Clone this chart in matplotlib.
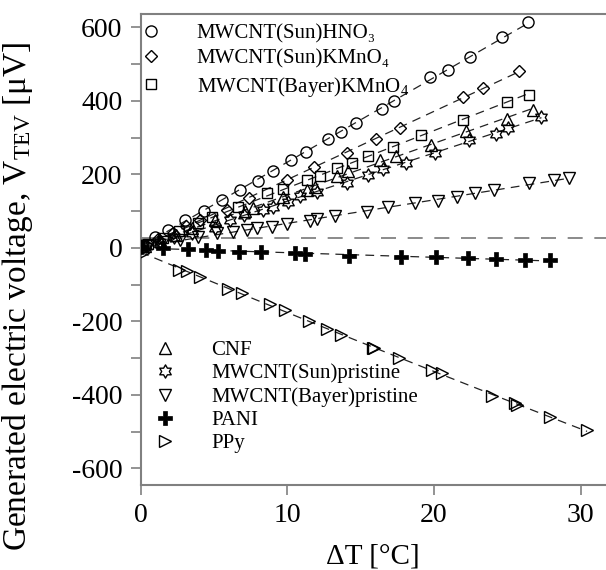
import numpy as np
import matplotlib
matplotlib.use("Agg")
import matplotlib.pyplot as plt
from matplotlib.path import Path

plt.rcParams['font.family'] = ['Liberation Serif', 'DejaVu Serif']
plt.rcParams['mathtext.fontset'] = 'custom'
plt.rcParams['mathtext.rm'] = 'Liberation Serif'
plt.rcParams['mathtext.it'] = 'Liberation Serif:italic'
plt.rcParams['axes.unicode_minus'] = False

# ---------------- data ----------------
hno3_x = [0.19, 0.99, 1.89, 3.03, 4.35, 5.53, 6.78, 7.98, 9.05, 10.25, 11.27, 12.75, 13.64, 14.66,
          16.43, 17.27, 19.72, 20.97, 22.49, 24.67, 26.42]
hno3_y = [8, 29, 49, 76, 101, 131, 158, 183, 210, 239, 261, 296, 316, 339,
          377, 401, 464, 483, 520, 573, 615]

sunk_x = [0.4, 1.2, 2.2, 3.1, 4.05, 5.87, 7.4, 9.96, 11.85, 14.05, 16.04, 17.68, 21.99, 23.35, 25.8]
sunk_y = [9, 25, 42, 60, 76, 103, 137, 184, 220, 258, 297, 326, 410, 436, 482]

bayk_x = [0.5, 1.5, 2.6, 3.94, 4.85, 6.66, 8.6, 9.73, 11.32, 12.23, 13.37, 14.45, 15.5,
          17.18, 19.09, 21.99, 24.95, 26.49]
bayk_y = [10, 28, 46, 67, 85, 112, 150, 160, 184, 196, 218, 232, 250,
          274, 307, 348, 398, 417]

cnf_x = [0.3, 1.3, 2.4, 3.5, 5.07, 7.12, 7.68, 9.73, 11.32, 11.89, 13.37, 14.12, 16.3,
         17.4, 19.77, 22.17, 24.95, 26.76]
cnf_y = [4, 20, 36, 55, 76, 100, 108, 139, 157, 165, 195, 209, 239,
         251, 280, 319, 350, 376]

sunp_x = [0.4, 1.3, 2.3, 3.5, 5.07, 6.1, 7.05, 8.37, 9.05, 10.07, 10.9, 12.0, 14.05, 15.52,
          16.54, 18.09, 20.06, 22.4, 24.22, 25.05, 27.33]
sunp_y = [5, 17, 30, 42, 55, 76, 90, 103, 112, 126, 142, 153, 178, 199,
          214, 232, 259, 294, 310, 327, 357]

bayp_x = [0.5, 1.5, 2.69, 3.94, 5.23, 6.32, 7.23, 7.92, 8.94, 9.96, 11.55, 12.04, 13.25, 15.45,
          16.88, 18.7, 20.29, 21.54, 22.79, 24.08, 26.49, 28.17, 29.19]
bayp_y = [5, 15, 22, 29, 40, 44, 49, 54, 58, 65, 74, 79, 86, 99,
          111, 123, 129, 138, 149, 158, 176, 185, 191]

pani_x = [0.0, 1.56, 3.26, 4.46, 5.3, 6.73, 8.24, 10.52, 11.2, 14.22, 17.78, 20.16, 22.31,
          24.2, 26.18, 27.88]
pani_y = [3, -1, -4, -5, -7, -10, -12, -14, -16, -21, -24, -25, -28, -30, -33, -33]

ppy_x = [0.19, 2.64, 3.19, 4.05, 5.98, 6.89, 8.8, 9.84, 11.5, 12.68, 13.64, 15.82, 15.9,
         17.63, 19.84, 20.52, 23.99, 25.51, 25.67, 27.94, 30.44]
ppy_y = [-14, -60, -64, -78, -112, -122, -153, -170, -198, -220, -236, -271, -272,
         -299, -332, -341, -403, -423, -428, -461, -495]

ref_level = 27

labels_top = ['MWCNT(Sun)HNO\u2083', 'MWCNT(Sun)KMnO\u2084', r'MWCNT(Bayer)KMnO$_4$']
labels_bot = ['CNF', 'MWCNT(Sun)pristine', 'MWCNT(Bayer)pristine', 'PANI', 'PPy']

# ---------------- style ----------------
# six-pointed star marker
ang_out = np.deg2rad(90 + 60 * np.arange(6))
ang_in = np.deg2rad(120 + 60 * np.arange(6))
verts = []
for a, b in zip(ang_out, ang_in):
    verts.append((np.cos(a), np.sin(a)))
    verts.append((np.cos(b) / np.sqrt(3), np.sin(b) / np.sqrt(3)))
verts.append(verts[0])
hexagram = Path(verts, closed=True)

fig = plt.figure(figsize=(6.06, 5.70), dpi=100)
ax = fig.add_axes([140.5 / 606, 85 / 570, 465.5 / 606, 471.5 / 570])

series = [
    (hno3_x, hno3_y, 'o', 8.0, 1),
    (sunk_x, sunk_y, 'D', 6.5, 1),
    (bayk_x, bayk_y, 's', 7.5, 1),
    (cnf_x, cnf_y, '^', 9.0, 1),
    (sunp_x, sunp_y, hexagram, 9.5, 1),
    (bayp_x, bayp_y, 'v', 9.0, 1),
    (pani_x, pani_y, 'P', 9.5, 1),
    (ppy_x, ppy_y, '>', 8.5, 2),
]
handles = []
for x, y, m, ms, deg in series:
    x = np.asarray(x, float)
    y = np.asarray(y, float)
    coef = np.polyfit(x, y, deg)
    xf = np.linspace(0, x.max(), 200)
    ax.plot(xf, np.polyval(coef, xf), color='#222222', lw=0.9, ls=(0, (7, 5)), zorder=2)
    if m == 'P':
        h, = ax.plot(x, y, ls='none', marker=m, ms=ms, mfc='black', mec='black', mew=0.5, zorder=3)
    else:
        h, = ax.plot(x, y, ls='none', marker=m, ms=ms, mfc='none', mec='black', mew=1.0, zorder=3)
    handles.append(h)

ax.axhline(ref_level, color='#777777', lw=1.2, ls=(0, (9, 7)), zorder=1)

ax.set_xlim(0, 31.73)
ax.set_ylim(-645, 638)
ax.set_xticks([0, 10, 20, 30])
ax.set_yticks([-600, -400, -200, 0, 200, 400, 600])
ax.set_yticks(np.arange(-500, 600, 200), minor=True)

spine_c = '#808080'
for s in ['left', 'bottom', 'top']:
    ax.spines[s].set_color(spine_c)
    ax.spines[s].set_linewidth(1.5)
ax.spines['right'].set_visible(False)
ax.tick_params(axis='both', which='both', direction='out', color=spine_c, width=1.2,
               labelsize=20, length=7, pad=6)
ax.tick_params(axis='y', which='minor', length=7)
ax.tick_params(top=False, right=False)

ax.set_xlabel('\u0394T [\u00b0C]', fontsize=21, labelpad=11)
ax.set_ylabel('Generated electric voltage, V$_{\\mathrm{TEV}}$ [\u03bcV]', fontsize=24)
ax.yaxis.set_label_coords(-0.226, 0.40)

leg1 = ax.legend(handles[:3], labels_top, loc='upper left', bbox_to_anchor=(0.0, 0.979),
                 frameon=False, fontsize=15, handlelength=1.0, handletextpad=1.7,
                 labelspacing=0.29, borderpad=0, borderaxespad=0)
ax.add_artist(leg1)
ax.legend(handles[3:], labels_bot, loc='upper left', bbox_to_anchor=(0.031, 0.307),
          frameon=False, fontsize=15, handlelength=1.0, handletextpad=1.7,
          labelspacing=0.18, borderpad=0, borderaxespad=0)

fig.savefig('out.png', dpi=100)
